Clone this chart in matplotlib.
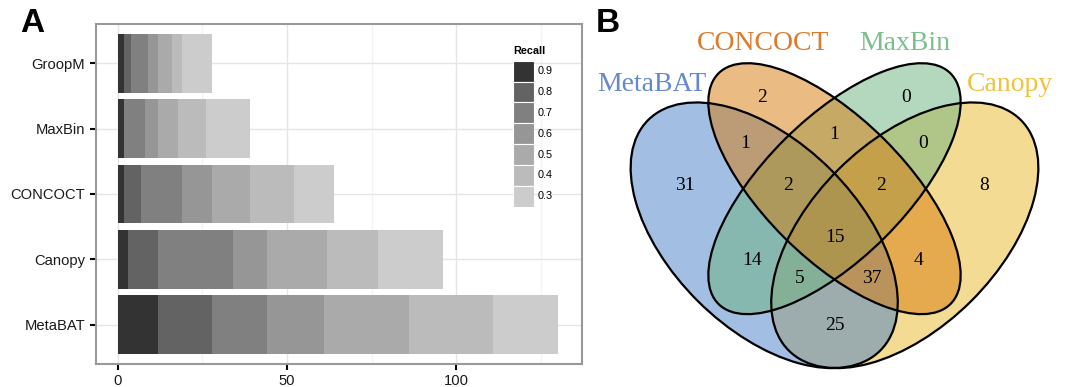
import numpy as np
import matplotlib
matplotlib.use("Agg")
import matplotlib.pyplot as plt
from matplotlib.patches import Ellipse, Rectangle

# ---- panel A data: cumulative number of genomes at each recall threshold
binners = ["MetaBAT", "Canopy", "CONCOCT", "MaxBin", "GroopM"]
recall_levels = ["0.9", "0.8", "0.7", "0.6", "0.5", "0.4", "0.3"]
metabat = [12, 28, 44, 61, 86, 111, 130]
canopy = [3, 12, 34, 44, 62, 77, 96]
concoct = [2, 7, 19, 28, 39, 52, 64]
maxbin = [2, 2, 8, 12, 18, 26, 39]
groopm = [2, 4, 9, 12, 16, 19, 28]
grey_shades = ["#333333", "#636363", "#808080", "#969696", "#aaaaaa", "#bbbbbb", "#cccccc"]
x_ticks = [0, 50, 100]

# ---- panel B data: venn region counts
venn_sets = ["MetaBAT", "CONCOCT", "MaxBin", "Canopy"]
venn_fill = ["#4781c9", "#d77b0b", "#6bb37f", "#ebb929"]
venn_label_col = ["#6489cc", "#dd7b2c", "#7bbf8b", "#f0c23c"]
region_counts = {
    "C": 2, "X": 0, "MC": 1, "CX": 1, "XN": 0,
    "M": 31, "MCX": 2, "CXN": 2, "N": 8,
    "MCXN": 15, "MX": 14, "CN": 4, "MXN": 5, "MCN": 37, "MN": 25,
}

plt.rcParams['font.family'] = ['Liberation Sans', 'DejaVu Sans']
fig = plt.figure(figsize=(10.69, 3.87), dpi=100)
W, H = 1069.0, 387.0

# ================= panel A =================
ax = fig.add_axes([95.5 / W, 1 - 364 / H, (581.5 - 95.5) / W, (364 - 24) / H])
data = np.array([metabat, canopy, concoct, maxbin, groopm])
ypos = np.arange(1, len(binners) + 1)
# longest (lowest recall) first so darker bars sit on top
for j in range(len(recall_levels) - 1, -1, -1):
    ax.barh(ypos, data[:, j], height=0.9, color=grey_shades[j], zorder=3)

ax.set_xlim(-6.5, 137)
ax.set_ylim(0.4, 5.6)
ax.set_yticks(ypos)
ax.set_yticklabels(binners, fontsize=10.6, color="#1a1a1a")
ax.set_xticks(x_ticks)
ax.set_xticklabels([str(t) for t in x_ticks], fontsize=10.6, color="#1a1a1a")
for x in [25, 75, 125]:
    ax.axvline(x, color="#f3f3f3", lw=1, zorder=0)
for x in x_ticks:
    ax.axvline(x, color="#e5e5e5", lw=1, zorder=0)
for y in ypos:
    ax.axhline(y, color="#e5e5e5", lw=1, zorder=0)
ax.tick_params(length=4.5, width=1.5, color="black", pad=3)
for s in ax.spines.values():
    s.set_color("#999999")
    s.set_linewidth(1.5)

# legend
lax = fig.add_axes([513 / W, 1 - 206.7 / H, 21 / W, 146 / H])
n = len(recall_levels)
for i, (lab, c) in enumerate(zip(recall_levels, grey_shades)):
    yy = n - 1 - i
    lax.add_patch(Rectangle((0, yy), 1, 1, facecolor=c, edgecolor="white", lw=0.8))
    lax.text(1.15, yy + 0.5, lab, fontsize=7.8, va="center", ha="left")
lax.set_xlim(0, 1)
lax.set_ylim(0, n)
lax.axis("off")
fig.text(513 / W, 1 - 50.5 / H, "Recall", fontsize=7.8, fontweight="bold", va="center", ha="left")

fig.text(32 / W, 1 - 24 / H, "A", fontsize=24, fontweight="bold", ha="center", va="center")
fig.text(608 / W, 1 - 24 / H, "B", fontsize=24, fontweight="bold", ha="center", va="center")

# ================= panel B =================
bx = fig.add_axes([590 / W, 0, (W - 590) / W, 1])
bx.set_xlim((590 - 600.2) / 468.6, (W - 600.2) / 468.6)
bx.set_ylim((454.3 - H) / 466.0, 454.3 / 466.0)
bx.axis("off")

ell = [((0.35, 0.47), 0.35, 0.20, 135),
       ((0.50, 0.57), 0.35, 0.15, 135),
       ((0.50, 0.57), 0.35, 0.15, 45),
       ((0.65, 0.47), 0.35, 0.20, 45)]
# fill order seen in the overlaps: Canopy, MetaBAT, MaxBin, CONCOCT
for k in [3, 0, 2, 1]:
    xy, a, b, ang = ell[k]
    bx.add_patch(Ellipse(xy, 2 * a, 2 * b, angle=ang, facecolor=venn_fill[k], alpha=0.5, edgecolor="none"))
for (xy, a, b, ang) in ell:
    bx.add_patch(Ellipse(xy, 2 * a, 2 * b, angle=ang, facecolor="none", edgecolor="black", lw=1.6))

region_pos = {
    "C": (0.345, 0.766), "X": (0.653, 0.766), "MC": (0.31, 0.666), "CX": (0.50, 0.686),
    "XN": (0.69, 0.666), "M": (0.18, 0.576), "MCX": (0.40, 0.576), "CXN": (0.60, 0.576),
    "N": (0.82, 0.576), "MCXN": (0.50, 0.466), "MX": (0.325, 0.416), "CN": (0.68, 0.416),
    "MXN": (0.425, 0.377), "MCN": (0.58, 0.377), "MN": (0.50, 0.276),
}
for k, v in region_counts.items():
    px, py = region_pos[k]
    bx.text(px, py, str(v), fontsize=14, family="Liberation Serif", ha="center", va="center")

set_pos = [(0.11, 0.7925), (0.348, 0.881), (0.650, 0.881), (0.874, 0.7925)]
for name, (px, py), c in zip(venn_sets, set_pos, venn_label_col):
    bx.text(px, py, name, fontsize=20, family="Liberation Serif", color=c, ha="center", va="center")

fig.savefig("out.png", dpi=100)
